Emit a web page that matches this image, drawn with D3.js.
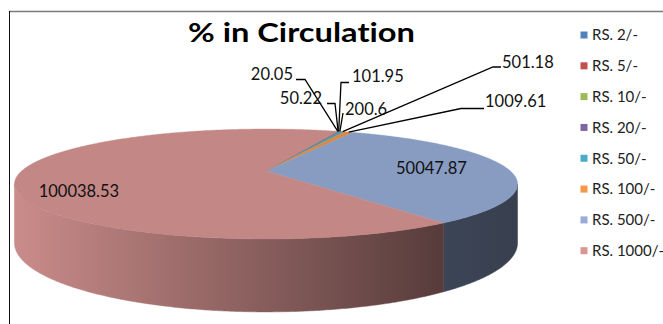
<!DOCTYPE html>
<html><head><meta charset="utf-8">
<script src="https://cdn.jsdelivr.net/npm/d3@7"></script>
<style>html,body{margin:0;padding:0;background:#fff;overflow:hidden} text{font-variant-ligatures:none;font-feature-settings:"liga" 0,"clig" 0}</style>
</head><body>
<svg id="chart" width="663" height="324"></svg>
<script>
// ---- data ----
const categories = ["RS. 2/-","RS. 5/-","RS. 10/-","RS. 20/-","RS. 50/-","RS. 100/-","RS. 500/-","RS. 1000/-"];
const values = [20.05, 50.22, 101.95, 200.6, 501.18, 1009.61, 50047.87, 100038.53];
const valueLabels = ["20.05","50.22","101.95","200.6","501.18","1009.61","50047.87","100038.53"];
const colors = ["#4F81BD","#C0504D","#9BBB59","#8064A2","#4BACC6","#F79646","#97ACD6","#D99694"];
const chartTitle = "% in Circulation";

// ---- layout ----
const P = {x0:266, y0:171, a:244.4, b:51.9, k:0.2364, h:55.7};
const firstSliceAngle = 21 * Math.PI/180;
// label placement: small slices use explicit label boxes with leader elbows
const labelLayout = [
  {x:293, y:80, anchor:"end",   elbows:[[296,79.5],[305,79.5]]},
  {x:322, y:104, anchor:"end",  elbows:[[327,103.5],[335,103.5]]},
  {x:352, y:82, anchor:"start", elbows:[[349,82.5],[341,82.5]]},
  {x:345, y:115, anchor:"start",elbows:[[343,113]]},
  {x:502, y:68, anchor:"start", elbows:[[501,67],[493,67]]},
  {x:485, y:107, anchor:"start",elbows:[[484,108.5],[461,108.5]]},
  {r:0.69, dy:6},
  {r:0.754, dy:21}
];

const svg = d3.select("#chart");
const FONT = "Lato, 'Open Sans', sans-serif";

function proj(theta, r, z) {
  const u = r*Math.sin(theta), v = r*Math.cos(theta);
  const w = 1 + P.k*v;
  return [P.x0 + P.a*u/w, P.y0 - P.b*v/w + (z||0)*P.h/w];
}
function shade(c, f) { const q = d3.rgb(c); return d3.rgb(q.r*f, q.g*f, q.b*f).formatHex(); }

// border
svg.append("line").attr("x1",9).attr("x2",663).attr("y1",11.5).attr("y2",11.5)
  .attr("stroke","#7a7a7a").attr("stroke-width",1.5);
svg.append("line").attr("x1",9.5).attr("x2",9.5).attr("y1",11).attr("y2",324)
  .attr("stroke","#111").attr("stroke-width",1);

const pie = d3.pie().sort(null).value(d => d)
  .startAngle(firstSliceAngle).endAngle(firstSliceAngle + 2*Math.PI);
const arcs = pie(values);
const line = d3.line();

function arcPts(a0, a1, z, r) {
  const n = Math.max(2, Math.ceil(Math.abs(a1-a0)/(Math.PI/360)));
  return d3.range(n+1).map(i => proj(a0 + (a1-a0)*i/n, r===undefined?1:r, z));
}

// gradients for walls
const defs = svg.append("defs");
const xl = P.x0 - P.a/Math.sqrt(1-P.k*P.k), xr = P.x0 + P.a/Math.sqrt(1-P.k*P.k);
arcs.forEach((d,i) => {
  const g = defs.append("linearGradient").attr("id","wall"+i)
    .attr("gradientUnits","userSpaceOnUse").attr("x1",xl).attr("x2",xr).attr("y1",0).attr("y2",0);
  [[0,0.93],[0.85,0.40],[1,0.37]].forEach(([o,f]) =>
    g.append("stop").attr("offset",o).attr("stop-color",shade(colors[i],f)));
});

// visible wall range (front)
const visLo = Math.acos(-P.k), visHi = 2*Math.PI - Math.acos(-P.k);
const gWalls = svg.append("g");
arcs.forEach((d,i) => {
  [[visLo,visHi],[visLo+2*Math.PI,visHi+2*Math.PI]].forEach(([lo,hi]) => {
    const s = Math.max(lo, d.startAngle), e = Math.min(hi, d.endAngle);
    if (e <= s) return;
    const pts = arcPts(s,e,0).concat(arcPts(e,s,1));
    gWalls.append("path").attr("d", line(pts)+"Z").attr("fill","url(#wall"+i+")")
      .attr("stroke","url(#wall"+i+")").attr("stroke-width",0.5);
  });
});

// top faces
const gTop = svg.append("g");
arcs.forEach((d,i) => {
  const pts = [[P.x0,P.y0]].concat(arcPts(d.startAngle, d.endAngle, 0));
  gTop.append("path").attr("d", line(pts)+"Z").attr("fill", shade(colors[i],0.9))
    .attr("stroke", shade(colors[i],0.9)).attr("stroke-width",0.4);
});

// labels
const gLab = svg.append("g").attr("font-family",FONT).attr("font-size",16.5).attr("fill","#111");
arcs.forEach((d,i) => {
  const L = labelLayout[i];
  const mid = (d.startAngle + d.endAngle)/2;
  if (L.elbows) {
    const anchor = proj(mid, 1, 0);
    const pts = L.elbows.concat([anchor]);
    gLab.append("path").attr("d", line(pts)).attr("fill","none").attr("stroke","#000").attr("stroke-width",1.3);
    gLab.append("text").attr("x",L.x).attr("y",L.y).attr("text-anchor",L.anchor).text(valueLabels[i]);
  } else {
    const p = proj(mid, L.r, 0);
    gLab.append("text").attr("x",p[0]).attr("y",p[1]+L.dy).attr("text-anchor","middle").text(valueLabels[i]);
  }
});

// title
svg.append("text").attr("x",301.5).attr("y",41.7).attr("text-anchor","middle")
  .attr("font-family",FONT).attr("font-weight","bold").attr("font-size",27)
  .attr("textLength",227).attr("lengthAdjust","spacingAndGlyphs").attr("fill","#000")
  .text(chartTitle);

// legend
const gLeg = svg.append("g").attr("font-family",FONT).attr("font-size",15).attr("fill","#222");
const ly = d3.scalePoint().domain(categories).range([35, 250.7]);
categories.forEach((c,i) => {
  gLeg.append("rect").attr("x",580.5).attr("y",ly(c)-3.5).attr("width",7).attr("height",7).attr("fill",colors[i]);
  gLeg.append("text").attr("x",592).attr("y",ly(c)+5.3).text(c);
});
</script>
</body></html>
